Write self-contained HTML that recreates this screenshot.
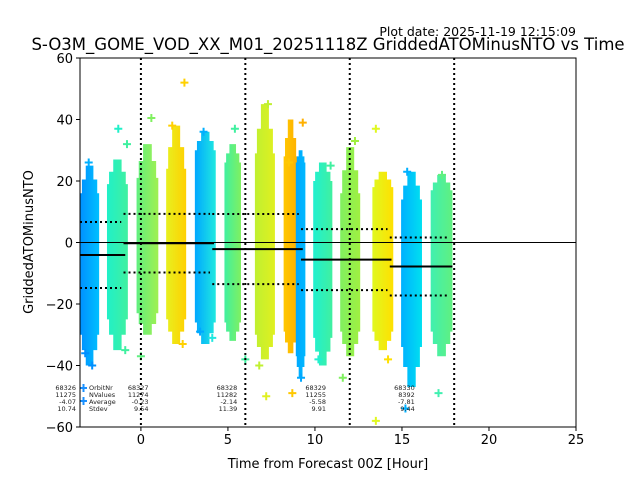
<!DOCTYPE html>
<html><head><meta charset="utf-8"><style>
body{margin:0;background:#fff;}
svg text{font-family:"DejaVu Sans","Liberation Sans",sans-serif;}
</style></head><body>
<svg id="chart" width="640" height="480" xmlns="http://www.w3.org/2000/svg">
<defs id="defs"></defs>
<rect width="640" height="480" fill="#fff"/>
<text x="576" y="36" font-size="12.5" text-anchor="end">Plot date: 2025-11-19 12:15:09</text>
<text x="328" y="50" font-size="16.5" text-anchor="middle">S-O3M_GOME_VOD_XX_M01_20251118Z GriddedATOMinusNTO vs Time</text>
<g id="plot"></g>
<text x="328" y="468" font-size="13" text-anchor="middle">Time from Forecast 00Z [Hour]</text>
<text x="0" y="0" font-size="13" text-anchor="middle" transform="translate(33,242) rotate(-90)">GriddedATOMinusNTO</text>
</svg>
<script>
// strips: x start, x end (hours), top, bottom (values), colours
const stripX0=[-3.5,-1.95,-0.25,1.45,3.1,4.8,6.55,8.2,8.9,9.9,11.45,13.3,14.95,16.65];
const stripX1=[-2.4,-0.75,1.0,2.6,4.3,5.75,7.7,9.0,9.45,11.0,12.6,14.5,16.15,17.9];
const stripTop=[16,19,21,24,30,26,29,28,26,20,16,18,14,17];
const stripBot=[-30,-25,-23,-25,-26,-26,-30,-29,-37,-31,-29,-29,-34,-29];
const tailTop=[25,27,32,38,36,32,45,40,30,26,31,23,23,22];
const tailBot=[-40,-35,-30,-33,-33,-32,-38,-36,-44,-40,-37,-35,-47,-37];
const colA=['#0090ff','#20f0c8','#60f080','#e8f020','#00a8ff','#40f0a0','#c0f030','#ffc800','#00a8ff','#20f0d0','#80f060','#e0f820','#00b0ff','#40f0b0'];
const colB=['#00c0ff','#40f0a0','#a0f050','#ffd000','#20e8e0','#80f060','#e0f020','#ffb000','#00b8ff','#40f0a0','#a0f040','#ffe000','#00e0f0','#60f080'];
// outlier markers
const outX=[-3.0,-2.8,-3.2,-1.3,-0.9,-0.8,0.6,0.0,2.5,1.8,2.4,3.6,4.1,5.4,7.3,7.2,6.8,8.7,9.2,9.3,10.9,10.2,12.3,11.6,13.5,14.2,13.5,15.3,15.2,17.3,17.1,8.5,3.4,6.0];
const outY=[26,-40,-36,37,-35,32,40.5,-37,52,38,-33,36,-31,37,45,-50,-40,-49,-44,39,25,-38,33,-44,37,-38,-58,23,-54,22,-49,26,-29,-38];
const outC=['#00b0ff','#0090ff','#0090ff','#20f0c8','#40f0a0','#40f0a0','#80f060','#60f080','#ffd000','#ffd000','#ffd000','#00b0ff','#20e8e0','#40f0a0','#c0f030','#e0f020','#c0f030','#ffc800','#00a8ff','#ffb000','#40f0a0','#20f0d0','#a0f040','#80f060','#e0f820','#ffe000','#e0f820','#00b0ff','#00b0ff','#60f080','#40f0b0','#ffc800','#00a8ff','#40f0a0'];
// orbit statistics
const orbitNr=['68326','68327','68328','68329','68330'];
const nValues=['11275','11274','11282','11255','8392'];
const avg=[-4.07,-0.23,-2.14,-5.58,-7.81];
const stdev=[10.74,9.54,11.39,9.91,9.44];
const segX0=[-3.5,-1.0,4.1,9.2,14.3];
const segX1=[-0.9,4.2,9.3,14.4,17.9];
const xTicks=[0,5,10,15,20,25];
const yTicks=[60,40,20,0,-20,-40,-60];
const vLines=[0,6,12,18];

const L=80,R=576,T=58,B=427,xmin=-3.5,xmax=25,ymin=-60,ymax=60;
const sx=v=>L+(v-xmin)/(xmax-xmin)*(R-L);
const sy=v=>B-(v-ymin)/(ymax-ymin)*(B-T);
const NS='http://www.w3.org/2000/svg';
const g=document.getElementById('plot'),defs=document.getElementById('defs');
function mk(t,a,p){const e=document.createElementNS(NS,t);for(const k in a)e.setAttribute(k,a[k]);(p||g).appendChild(e);return e;}
const cp=mk('clipPath',{id:'clip'},defs);mk('rect',{x:L,y:T,width:R-L,height:B-T},cp);
const data=mk('g',{'clip-path':'url(#clip)'});
stripX0.forEach((x0,i)=>{
  const gr=mk('linearGradient',{id:'gr'+i,x1:0,x2:1,y1:0,y2:0},defs);
  mk('stop',{offset:0,'stop-color':colA[i]},gr);mk('stop',{offset:1,'stop-color':colB[i]},gr);
  const a=sx(x0),b=sx(stripX1[i]),w=b-a;
  const tt=sy(tailTop[i]),t=sy(stripTop[i]),bb=sy(stripBot[i]),tb=sy(tailBot[i]);
  const tm=t-(t-tt)*0.5,bm=bb+(tb-bb)*0.5;
  const i1=w*0.1,i2=w*0.3;
  const d=`M${a},${bb} V${t} H${a+i1} V${tm} H${a+i2} V${tt} H${b-i2} V${tm} H${b-i1} V${t} H${b} V${bb} H${b-i1} V${bm} H${b-i2} V${tb} H${a+i2} V${bm} H${a+i1} V${bb} Z`;
  const r=mk('path',{d:d,fill:'url(#gr'+i+')'},data);
  
  
});
outX.forEach((x,i)=>{
  const px=sx(x),py=sy(outY[i]);
  const p=mk('path',{d:`M${px-4},${py}H${px+4}M${px},${py-4}V${py+4}`,stroke:outC[i],'stroke-width':2},data);
  
  
});
const z=mk('line',{x1:L,x2:R,y1:sy(0),y2:sy(0),stroke:'#000','stroke-width':1});


vLines.forEach(v=>{
  const l=mk('line',{x1:sx(v),x2:sx(v),y1:T,y2:B,stroke:'#000','stroke-width':2,'stroke-dasharray':'2,3'});
  
  
});
avg.forEach((a,i)=>{
  const x0=sx(segX0[i]),x1=sx(segX1[i]);
  const m=mk('line',{x1:x0,x2:x1,y1:sy(a),y2:sy(a),stroke:'#000','stroke-width':2});
  
  
  [a+stdev[i],a-stdev[i]].forEach(v=>{
    const d=mk('line',{x1:x0,x2:x1-4,y1:sy(v),y2:sy(v),stroke:'#000','stroke-width':2,'stroke-dasharray':'2,3'});
    
    
  });
  const tx=sx(segX0[i])+(i==0?-4:25);
  [orbitNr[i],nValues[i],a.toFixed(2),stdev[i].toFixed(2)].forEach((s,j)=>{
    const t=mk('text',{x:tx,y:390+j*7,'font-size':6.5,'text-anchor':'end',fill:'#222'});
    t.textContent=s;
    
    
  });
});
['OrbitNr','NValues','Average','Stdev'].forEach((s,j)=>{
  const t=mk('text',{x:89,y:390+j*7,'font-size':6.5,fill:'#222'});t.textContent=s;
  
  
});
[388,401].forEach(y=>{
  const p=mk('path',{d:`M80,${y}H87M83.5,${y-4}V${y+4}`,stroke:'#1a90ff','stroke-width':2});
  
  
});
const fr=mk('rect',{x:L,y:T,width:R-L,height:B-T,fill:'none',stroke:'#000','stroke-width':1});


xTicks.forEach(v=>{
  mk('line',{x1:sx(v),x2:sx(v),y1:B,y2:B+4,stroke:'#000'});
  const t=mk('text',{x:sx(v),y:B+17,'font-size':13,'text-anchor':'middle'});t.textContent=v;
  
  
});
yTicks.forEach(v=>{
  mk('line',{x1:L-4,x2:L,y1:sy(v),y2:sy(v),stroke:'#000'});
  const t=mk('text',{x:L-7,y:sy(v)+5,'font-size':13,'text-anchor':'end'});t.textContent=v<0?'\u2212'+(-v):v;
  
  
});
</script>
</body></html>
